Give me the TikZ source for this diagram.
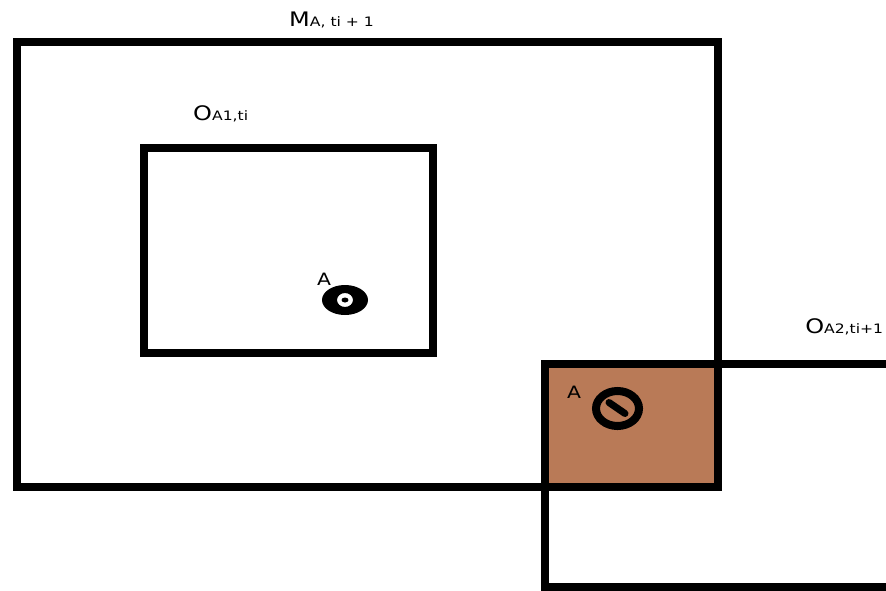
\documentclass[tikz,border=0pt]{standalone}
\usepackage{fontspec}
\setmainfont{DejaVu Sans}
\definecolor{brownfill}{RGB}{185,122,87}
\tikzset{
  frame/.style={draw=black,line width=8pt,line join=miter},
  lbl/.style={inner sep=0pt,anchor=base west,xscale=1.2,text=black},
}
\newcommand{\lblbig}[1]{{\fontsize{20}{20}\selectfont #1}}
\newcommand{\lblsub}[1]{{\fontsize{13}{13}\selectfont #1}}
\begin{document}
\begin{tikzpicture}[x=1pt,y=-1pt]
\useasboundingbox (0,0) rectangle (886,590);
\clip (0,0) rectangle (886,590);
\fill[white] (0,0) rectangle (886,590);
% overlap fill
\fill[brownfill] (545,364) rectangle (718,487);
% rectangles
\draw[frame] (17,42) rectangle (718,487);
\draw[frame] (144,148) rectangle (433,353);
\draw[frame] (900,364) -- (545,364) -- (545,587) -- (900,587);
% labels
\node[lbl] (m) at (289,26) {\lblbig{M}\lblsub{A, ti + 1}};
\node[lbl] (o1) at (193,120) {\lblbig{O}\lblsub{A1,ti}};
\node[lbl] (o2) at (805,333) {\lblbig{O}\lblsub{A2,ti+1}};
\node[lbl] (a1) at (317,285) {\fontsize{17}{17}\selectfont A};
\node[lbl] (a2) at (567,398) {\fontsize{17}{17}\selectfont A};
% target 1
\fill[black,even odd rule] (345,300) ellipse [x radius=23,y radius=15]
  (345,300) ellipse [x radius=8,y radius=7];
\fill[black] (345,300) ellipse [x radius=3.5,y radius=2.5];
% target 2
\draw[black,line width=8pt] (617.5,408.5) ellipse [x radius=21.5,y radius=17.5];
\draw[black,line width=7pt,line cap=round] (609,402.5) -- (625,413.5);
\end{tikzpicture}
\end{document}
